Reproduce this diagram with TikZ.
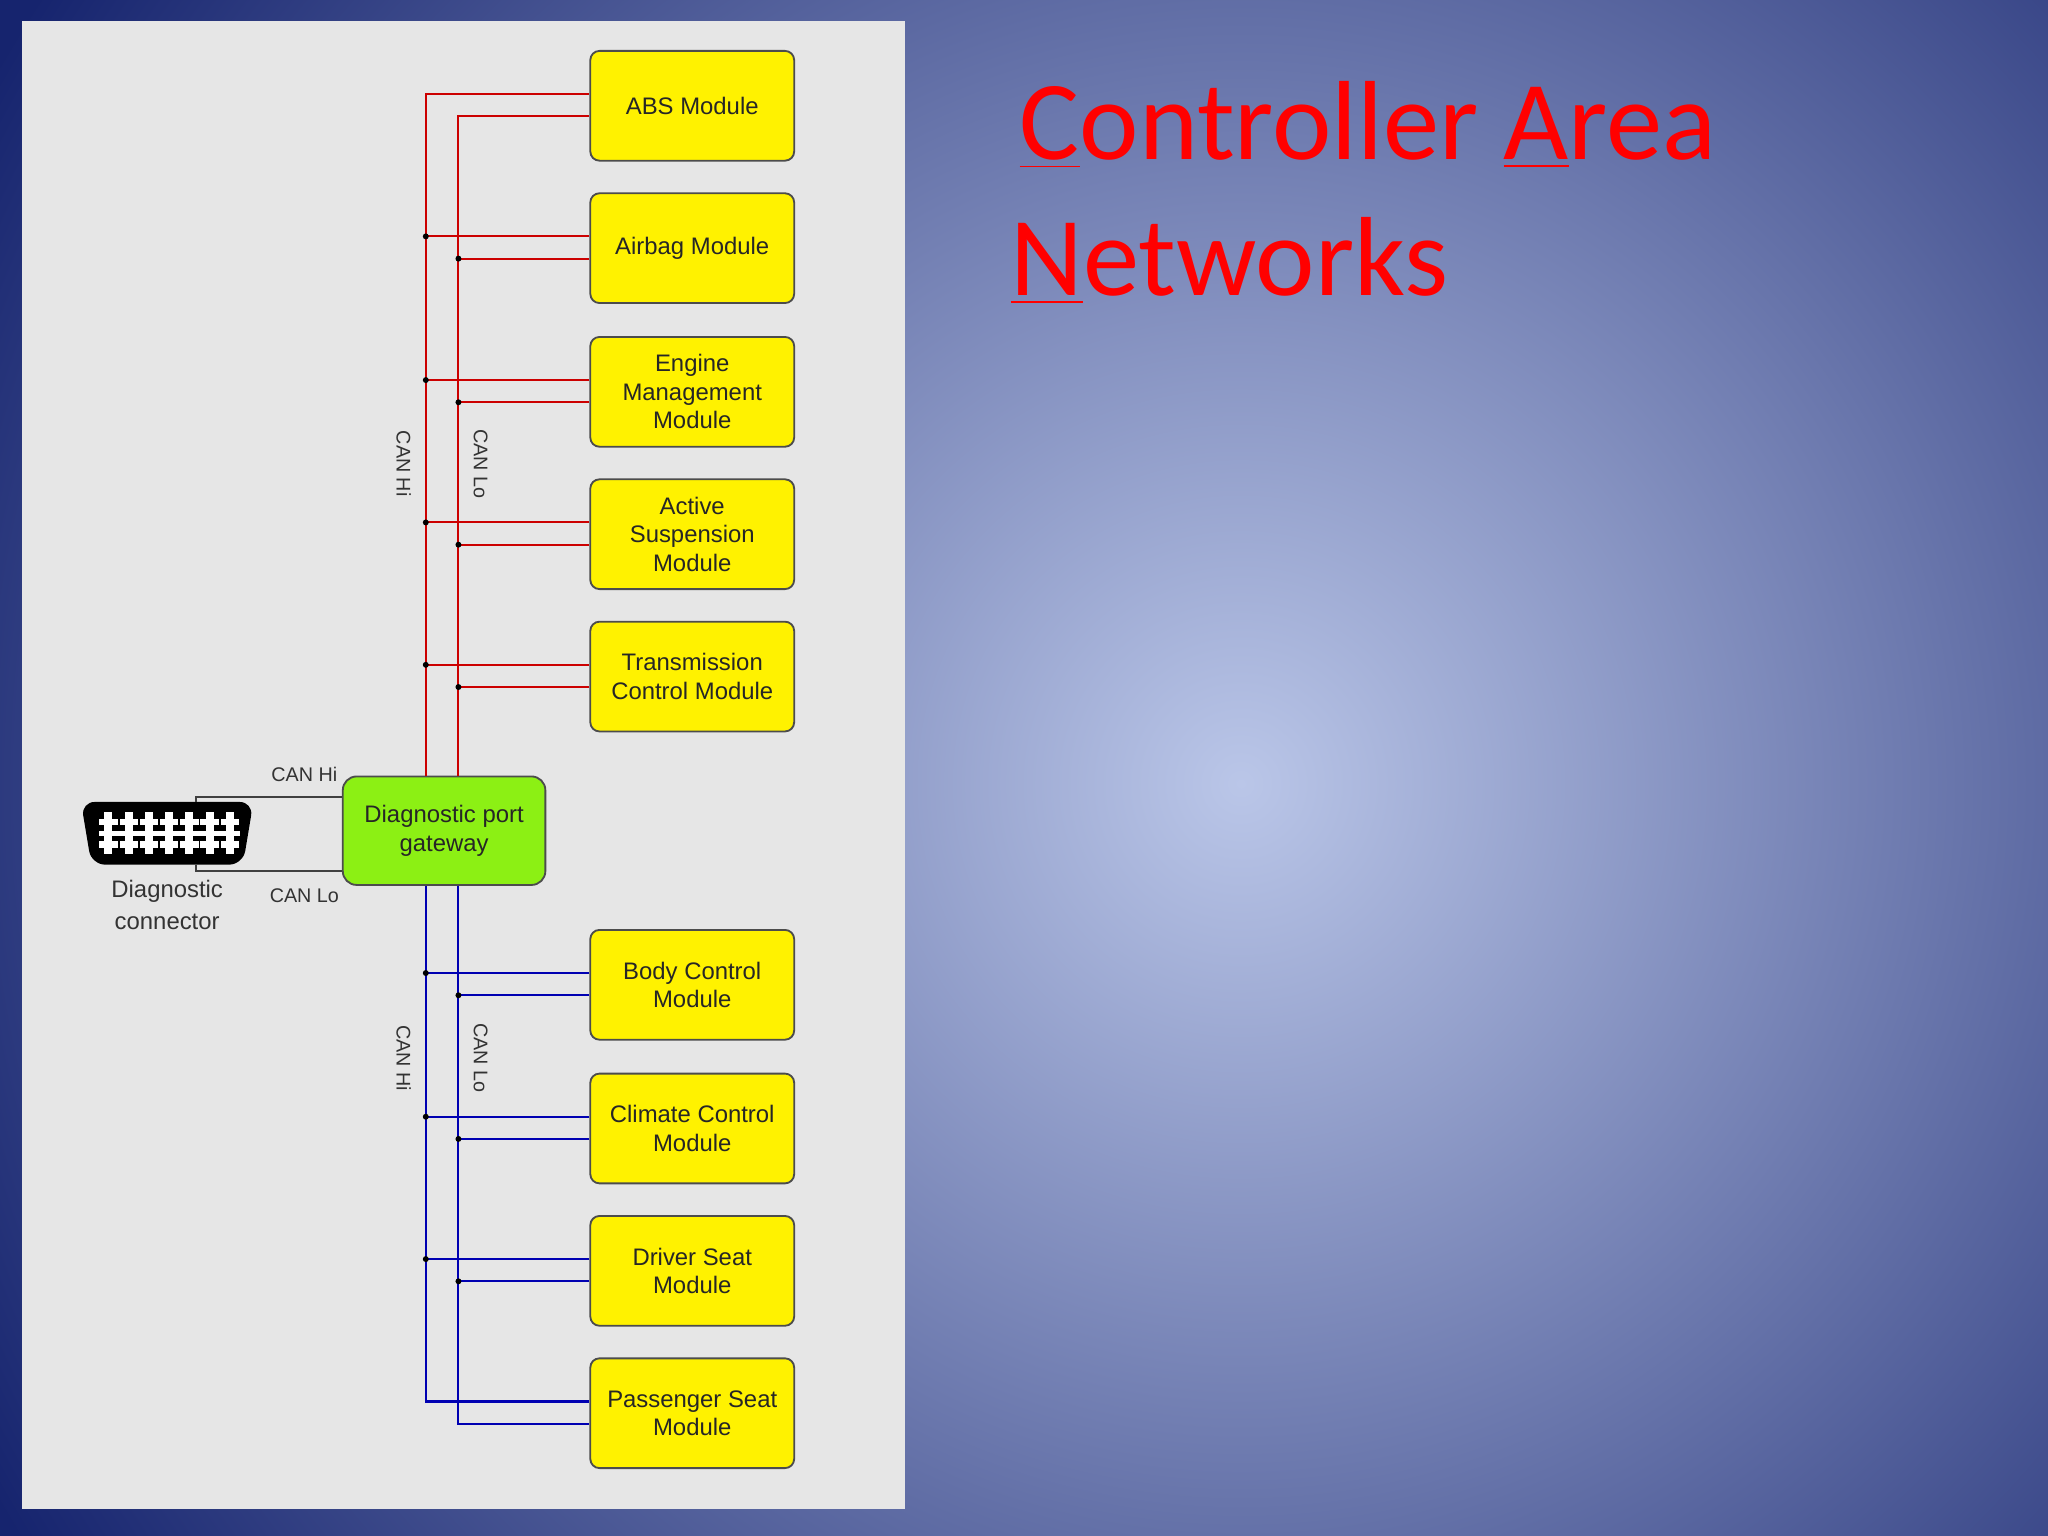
\documentclass[tikz,border=0pt]{standalone}
\usepackage{fontspec}
\setmainfont{Liberation Sans}
\newfontfamily\titlefont{Carlito}
\definecolor{bgin}{RGB}{186,198,232}
\definecolor{bgout}{RGB}{22,36,110}
\definecolor{panel}{RGB}{230,230,230}
\definecolor{gwgreen}{RGB}{140,240,20}
\begin{document}
\begin{tikzpicture}[x=0.01cm,y=-0.01cm,
  mod/.style={draw=black!70,fill=yellow,rounded corners=2,minimum width=1.56cm,minimum height=0.84cm,align=center,font=\fontsize{5.2}{6.2}\selectfont,text=black!85,inner sep=0pt},
  hi/.style={draw=red!80!black,line width=0.45pt},
  bhi/.style={draw=blue!70!black,line width=0.45pt},
  dot/.style={circle,fill=black,inner sep=0pt,minimum size=1.3pt},
  lab/.style={font=\fontsize{4.3}{5}\selectfont,text=black!80}]
\begin{scope}
\clip (0,0) rectangle (1568,1176);
\shade[inner color=bgin,outer color=bgout] (-150,-500) rectangle (2050,1700);
\end{scope}
\fill[panel] (17,16) rectangle (693,1155);
% modules
\foreach \n/\y/\t in {abs/81/ABS Module,air/190/Airbag Module,eng/300/Engine\\Management\\Module,act/409/Active\\Suspension\\Module,tra/518/Transmission\\Control Module,bod/754/Body Control\\Module,cli/864/Climate Control\\Module,drv/973/Driver Seat\\Module,pas/1082/Passenger Seat\\Module}
  \node[mod] (\n) at (530,\y) {\t};
\node[draw=black!70,fill=gwgreen,rounded corners=3,minimum width=1.55cm,minimum height=0.83cm,align=center,font=\fontsize{5.2}{6.2}\selectfont,text=black!85,inner sep=0pt] (gw) at (340,636) {Diagnostic port\\gateway};
% red buses
\coordinate (rh) at (326,72); \coordinate (rl) at (351,89);
\draw[hi] (gw.north -| rh) -- (rh) -- (rh -| abs.west);
\draw[hi] (gw.north -| rl) -- (rl) -- (rl -| abs.west);
\foreach \n in {air,eng,act,tra}{
  \draw[hi] ([yshift=0.09cm]\n.west) -- ([yshift=0.09cm]\n.west -| rh) node[dot]{};
  \draw[hi] ([yshift=-0.08cm]\n.west) -- ([yshift=-0.08cm]\n.west -| rl) node[dot]{};}
% blue buses
\coordinate (bh) at (326,1073); \coordinate (bl) at (351,1090);
\draw[bhi] (gw.south -| bh) -- (bh) -- (bh -| pas.west);
\draw[bhi] (gw.south -| bl) -- (bl) -- (bl -| pas.west);
\foreach \n in {bod,cli,drv}{
  \draw[bhi] ([yshift=0.09cm]\n.west) -- ([yshift=0.09cm]\n.west -| bh) node[dot]{};
  \draw[bhi] ([yshift=-0.08cm]\n.west) -- ([yshift=-0.08cm]\n.west -| bl) node[dot]{};}
\node[lab,rotate=-90] at (309,355) {CAN Hi};
\node[lab,rotate=-90] at (368,355) {CAN Lo};
\node[lab,rotate=-90] at (309,810) {CAN Hi};
\node[lab,rotate=-90] at (368,810) {CAN Lo};
% connector
\fill[black,rounded corners=3] (62,614) -- (194,614) -- (186,662) -- (70,662) -- cycle;
\foreach \i in {0,...,6}{
  \fill[white] (80+\i*15.5,622) rectangle (86+\i*15.5,654);
  \fill[white] (76+\i*15.5,627) rectangle (90+\i*15.5,632);
  \fill[white] (76+\i*15.5,644) rectangle (90+\i*15.5,649);}
\fill[white] (76,636) rectangle (184,640);
\coordinate (ch) at (150,610); \coordinate (cl) at (150,667);
\draw[black!75,line width=0.45pt] (150,614) -- (ch) -- (ch -| gw.west);
\draw[black!75,line width=0.45pt] (150,662) -- (cl) -- (cl -| gw.west);
\node[lab] at (233,593) {CAN Hi};
\node[lab] at (233,686) {CAN Lo};
\node[align=center,font=\fontsize{5.2}{7}\selectfont,text=black!80] (dcl) at (128,693) {Diagnostic\\connector};
% title
\node[anchor=base west,text=red,font=\titlefont\fontsize{24.5}{26}\selectfont,inner sep=0pt] at (780,122) {\underline{C}ontroller \underline{A}rea};
\node[anchor=base west,text=red,font=\titlefont\fontsize{24.5}{26}\selectfont,inner sep=0pt] at (773,226) {\underline{N}etworks};
\pgfresetboundingbox
\useasboundingbox (0,0) rectangle (1568,1176);
\end{tikzpicture}
\end{document}
